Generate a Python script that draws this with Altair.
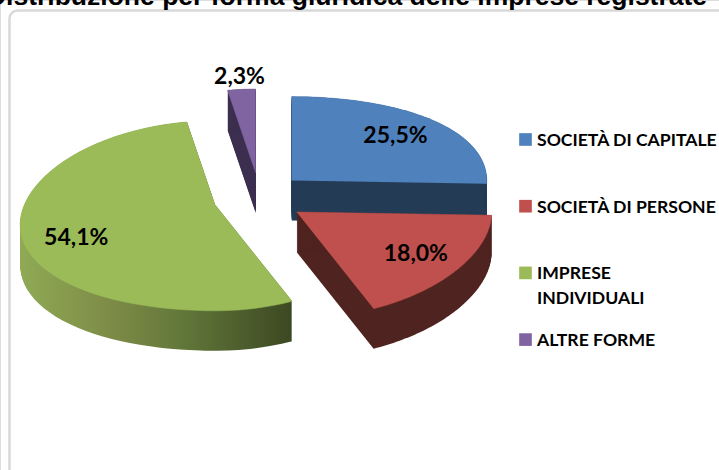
import altair as alt
import pandas as pd

# ---------------- data ----------------
categories = ["SOCIETÀ DI CAPITALE", "SOCIETÀ DI PERSONE", "IMPRESE INDIVIDUALI", "ALTRE FORME"]
shares = [25.5, 18.0, 54.1, 2.3]
top_colors = ["#4F81BD", "#C0504D", "#9BBB59", "#8064A2"]
side_colors = ["#243B55", "#4F2320", "#6E8440", "#3B2E4E"]
title_text = "Distribuzione per forma giuridica delle imprese registrate"

# ---------------- geometry (style) ----------------
W, H = 719, 470
CX, CY = 259, 198      # pie centre
EX, EY = 45.6, 25      # explosion distance (ellipse plane)
RX = 195               # horizontal radius
RY0, RYP = 95, 11      # vertical radius + perspective (back/front)
PL = 20                # perspective sag on the left side
DEPTH = 40             # thickness of the 3D pie
N = 60                 # arc resolution

slices = pd.DataFrame({"cat": categories, "value": shares})
slices["i"] = range(len(slices))
slices["start"] = slices["value"].cumsum() - slices["value"]
slices["total"] = slices["value"].sum()

rows = (slices[["cat", "value", "i", "start", "total"]]
        .merge(pd.DataFrame({"k": range(N + 2)}), how="cross")
        .merge(pd.DataFrame({"d": range(DEPTH + 1)}), how="cross"))

xs = alt.X("px:Q", scale=alt.Scale(domain=[0, W], nice=False, zero=False), axis=None)
ys = alt.Y("py:Q", scale=alt.Scale(domain=[0, H], nice=False, zero=False, reverse=True), axis=None)

sag = "pow(max(0, -sin({a})), 2)"

base = (alt.Chart(rows)
        .transform_calculate(m="2*PI*(datum.start + datum.value/2)/datum.total")
        .transform_calculate(
            th=f"datum.k == 0 ? datum.m : 2*PI*(datum.start + (datum.k-1)/{N}*datum.value)/datum.total",
            ax=f"{CX} + {EX}*sin(datum.m)",
            ay=f"{CY} - {EY}*cos(datum.m)")
        .transform_calculate(
            px=f"datum.k == 0 ? datum.ax : datum.ax + {RX}*sin(datum.th)",
            py=(f"(datum.k == 0 ? datum.ay : datum.ay - ({RY0} - {RYP}*cos(datum.th))*cos(datum.th)"
                f" + {PL}*" + sag.format(a="datum.th") + ") + datum.d")))

green_grad = alt.Gradient(
    gradient="linear", x1=0, x2=1, y1=0, y2=0,
    stops=[alt.GradientStop(color="#8FAA55", offset=0),
           alt.GradientStop(color="#7C8A46", offset=0.35),
           alt.GradientStop(color="#617739", offset=0.6),
           alt.GradientStop(color="#3C4822", offset=1)])

layers = []
# frame of the chart area
frame = alt.Chart(pd.DataFrame({"a": [0]})).mark_rect(
    fillOpacity=0, stroke="#D9D9D9", strokeWidth=2.5, cornerRadius=8
).encode(x=alt.value(9.5), x2=alt.value(900), y=alt.value(10.5), y2=alt.value(900))
layers.append(frame)

for i in [3, 0, 2, 1]:
    side_fill = green_grad if i == 2 else side_colors[i]
    side = base.transform_filter(f"datum.i == {i}").mark_line(
        fill=side_fill, strokeWidth=0, interpolate="linear"
    ).encode(x=xs, y=ys, detail="d:O", order="k:Q")
    top = base.transform_filter(f"datum.i == {i} && datum.d == 0").mark_line(
        fill=top_colors[i], stroke=top_colors[i], strokeWidth=0.5, interpolate="linear"
    ).encode(x=xs, y=ys, order="k:Q")
    layers += [side, top]

labels = alt.Chart(slices).transform_calculate(
    m="2*PI*(datum.start + datum.value/2)/datum.total",
    f="datum.value < 5 ? 1.15 : 0.74",
    txt="replace(format(datum.value, '.1f'), '.', ',') + '%'"
).transform_calculate(
    px=f"{CX} + {EX}*sin(datum.m) + datum.f*{RX}*sin(datum.m)",
    py=(f"{CY} - {EY}*cos(datum.m) - datum.f*({RY0} - {RYP}*cos(datum.m))*cos(datum.m)"
        f" + datum.f*{PL}*" + sag.format(a="datum.m"))
).mark_text(font="Lato", fontWeight="bold", fontSize=23, align="center",
            baseline="middle", color="black").encode(x=xs, y=ys, text="txt:N")
layers.append(labels)

color_scale = alt.Scale(domain=categories, range=top_colors)
leg_sq = alt.Chart(slices).transform_calculate(
    px="525.5", py="139.5 + 66.7*datum.i"
).mark_square(size=160, opacity=1, filled=True).encode(
    x=xs, y=ys, color=alt.Color("cat:N", scale=color_scale, legend=None))
leg_txt = alt.Chart(slices).transform_calculate(
    px="537", py="146 + 66.7*datum.i",
    lab="replace(datum.cat, 'IMPRESE ', 'IMPRESE\\n')"
).mark_text(font="Lato", fontWeight="bold", fontSize=17.6, align="left",
            baseline="alphabetic", lineBreak="\n", lineHeight=25, color="black").encode(
    x=xs, y=ys, text="lab:N")
layers += [leg_sq, leg_txt]

title = alt.Chart(pd.DataFrame({"t": [title_text]})).mark_text(
    font="Liberation Sans", fontWeight="bold", fontSize=26.5, align="center",
    baseline="alphabetic", color="black"
).encode(x=alt.value(347), y=alt.value(5), text="t:N")
layers.append(title)

chart = alt.layer(*layers).properties(
    width=W, height=H, padding=0, autosize=alt.AutoSizeParams(type="none")
).configure_view(strokeWidth=0).configure(background="white")

chart.save("out.html", embed_options={"renderer": "svg", "actions": False})
